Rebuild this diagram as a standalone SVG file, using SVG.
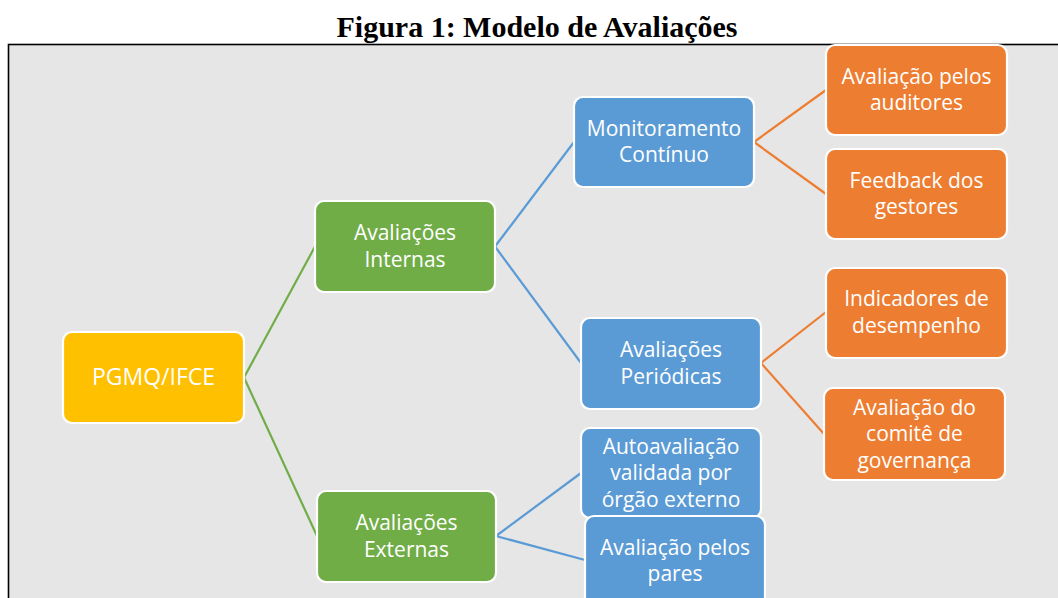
<svg xmlns="http://www.w3.org/2000/svg" width="1058" height="598" viewBox="0 0 1058 598">
<style>
.title{font-family:"Liberation Serif","Times New Roman",serif;font-weight:bold;font-size:30px;fill:#000}
.box{stroke:#fff;stroke-width:2.2}
.yel{fill:#FFC000}
.grn{fill:#70AD47}
.blu{fill:#5B9BD5}
.org{fill:#ED7D31}
.lbl{font-family:"Open Sans","Liberation Sans",sans-serif;font-size:21px;fill:#fff;text-anchor:middle}
.root{font-size:23px}
.cg{stroke:#70AD47;stroke-width:2.2;fill:none}
.cb{stroke:#5B9BD5;stroke-width:2.2;fill:none}
.co{stroke:#ED7D31;stroke-width:2.2;fill:none}
</style>
<rect x="0" y="0" width="1058" height="598" fill="#fff"/>
<text class="title" x="537" y="37" text-anchor="middle">Figura 1: Modelo de Avaliações</text>
<rect x="8.5" y="44.5" width="1060" height="570" fill="#E6E6E6" stroke="#000" stroke-width="1.6"/>
<g id="connectors">
<line class="cg" x1="244" y1="377.5" x2="315" y2="246.5"/>
<line class="cg" x1="244" y1="377.5" x2="317" y2="536"/>
<line class="cb" x1="495" y1="246.5" x2="574" y2="142"/>
<line class="cb" x1="495" y1="246.5" x2="581" y2="363"/>
<line class="cb" x1="496" y1="536" x2="581" y2="473"/>
<line class="cb" x1="496" y1="536" x2="585" y2="560"/>
<line class="co" x1="754" y1="142" x2="826" y2="90"/>
<line class="co" x1="754" y1="142" x2="826" y2="194"/>
<line class="co" x1="761" y1="363" x2="826" y2="312"/>
<line class="co" x1="761" y1="363" x2="824" y2="434"/>
</g>
<g id="node-root">
<rect class="box yel" x="63" y="332" width="181" height="91" rx="9"/>
<text class="lbl root" x="153.5" y="385">PGMQ/IFCE</text>
</g>
<g id="node-internas">
<rect class="box grn" x="315" y="201" width="180" height="91" rx="9"/>
<text class="lbl" x="405" y="240">Avaliações</text>
<text class="lbl" x="405" y="267">Internas</text>
</g>
<g id="node-externas">
<rect class="box grn" x="317" y="491" width="179" height="91" rx="9"/>
<text class="lbl" x="406.5" y="530">Avaliações</text>
<text class="lbl" x="406.5" y="557">Externas</text>
</g>
<g id="node-monitoramento">
<rect class="box blu" x="574" y="97" width="180" height="90" rx="9"/>
<text class="lbl" x="664" y="135.5">Monitoramento</text>
<text class="lbl" x="664" y="162">Contínuo</text>
</g>
<g id="node-periodicas">
<rect class="box blu" x="581" y="318" width="180" height="91" rx="9"/>
<text class="lbl" x="671" y="357">Avaliações</text>
<text class="lbl" x="671" y="383.5">Periódicas</text>
</g>
<g id="node-autoavaliacao">
<rect class="box blu" x="581" y="428" width="180" height="90" rx="9"/>
<text class="lbl" x="671" y="453.5">Autoavaliação</text>
<text class="lbl" x="671" y="480">validada por</text>
<text class="lbl" x="671" y="506.5">órgão externo</text>
</g>
<g id="node-pares">
<rect class="box blu" x="585" y="516" width="180" height="90" rx="9"/>
<text class="lbl" x="675" y="554.5">Avaliação pelos</text>
<text class="lbl" x="675" y="581">pares</text>
</g>
<g id="node-auditores">
<rect class="box org" x="826" y="45" width="181" height="90" rx="9"/>
<text class="lbl" x="916.5" y="83.5">Avaliação pelos</text>
<text class="lbl" x="916.5" y="110">auditores</text>
</g>
<g id="node-gestores">
<rect class="box org" x="826" y="149" width="181" height="90" rx="9"/>
<text class="lbl" x="916.5" y="187.5">Feedback dos</text>
<text class="lbl" x="916.5" y="214">gestores</text>
</g>
<g id="node-indicadores">
<rect class="box org" x="826" y="268" width="181" height="90" rx="9"/>
<text class="lbl" x="916.5" y="306">Indicadores de</text>
<text class="lbl" x="916.5" y="332.5">desempenho</text>
</g>
<g id="node-comite">
<rect class="box org" x="824" y="388" width="181" height="92" rx="9"/>
<text class="lbl" x="914.5" y="414.5">Avaliação do</text>
<text class="lbl" x="914.5" y="441">comitê de</text>
<text class="lbl" x="914.5" y="467.5">governança</text>
</g>
</svg>
